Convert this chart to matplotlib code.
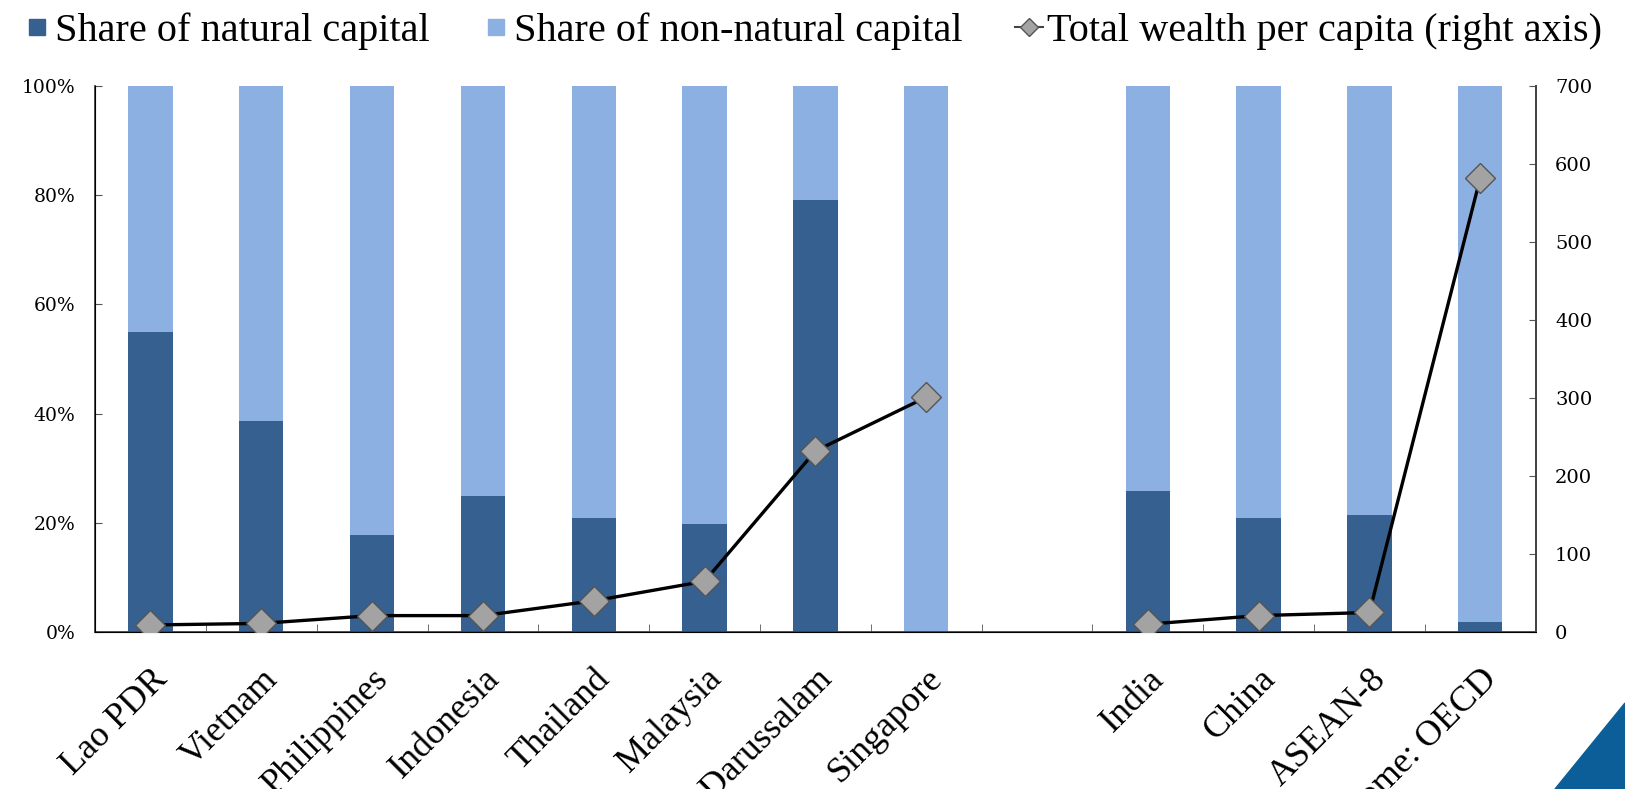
import numpy as np
import matplotlib
matplotlib.use("Agg")
import matplotlib.pyplot as plt
from matplotlib.patches import Polygon
from matplotlib.lines import Line2D

categories = ["Lao PDR", "Vietnam", "Philippines", "Indonesia", "Thailand", "Malaysia",
              "Brunei Darussalam", "Singapore", "", "India", "China", "ASEAN-8",
              "High income: OECD"]
natural_share = [55.0, 38.7, 17.8, 24.9, 20.9, 19.7, 79.1, 0.0, np.nan, 25.8, 20.9, 21.4, 1.9]
wealth_per_capita = [9, 11, 21, 21, 40, 65, 232, 301, np.nan, 10, 21, 25, 582]

plt.rcParams['font.family'] = ['Liberation Serif', 'DejaVu Serif']

dark = "#35608f"
light = "#8db0e2"

fig = plt.figure(figsize=(16.25, 7.89), dpi=100)
ax = fig.add_axes([0.0585, 0.199, 0.8865, 0.692])
x = np.arange(len(categories))
nat = np.array(natural_share, dtype=float)
valid = ~np.isnan(nat)
non = 100 - nat
w = 0.4
ax.bar(x[valid], nat[valid], width=w, color=dark, zorder=2)
ax.bar(x[valid], non[valid], bottom=nat[valid], width=w, color=light, zorder=2)

ax.set_xlim(-0.5, len(categories) - 0.5)
ax.set_ylim(0, 100)
ax.set_yticks(np.arange(0, 101, 20))
ax.set_yticklabels([f"{v}%" for v in range(0, 101, 20)], fontsize=13.5,
                   family=['DejaVu Serif'])
ax.set_xticks(x)
ax.set_xticklabels(categories, rotation=45, ha='right', rotation_mode='anchor',
                   fontsize=26)
ax.tick_params(axis='x', length=0, pad=22)
ax.set_xticks(np.arange(-0.5, len(categories), 1), minor=True)
ax.tick_params(axis='x', which='minor', direction='in', length=6, color='#555555')
ax.tick_params(axis='y', direction='in', length=5, color='#555555', pad=14)
ax.spines['top'].set_visible(False)
for s in ['left', 'bottom', 'right']:
    ax.spines[s].set_color('#444444')
    ax.spines[s].set_linewidth(1.3)

ax2 = ax.twinx()
ax2.set_ylim(0, 700)
ax2.set_yticks(np.arange(0, 701, 100))
ax2.set_yticklabels([str(v) for v in range(0, 701, 100)], fontsize=14,
                    family=['DejaVu Serif'])
ax2.tick_params(axis='y', direction='in', length=5, color='#555555', pad=14)
ax2.spines['top'].set_visible(False)
ax2.spines['right'].set_color('#444444')
ax2.spines['right'].set_linewidth(1.3)
ax2.plot(x, wealth_per_capita, color='black', lw=2.4, marker='D', markersize=15,
         markerfacecolor='#a3a3a3', markeredgecolor='#555555', markeredgewidth=1, zorder=3)

handles = [
    Line2D([], [], marker='s', color='none', markerfacecolor=dark, markeredgecolor=dark, markersize=11),
    Line2D([], [], marker='s', color='none', markerfacecolor=light, markeredgecolor=light, markersize=11),
    Line2D([], [], marker='D', color='#444444', lw=1.5, markerfacecolor='#a3a3a3',
           markeredgecolor='#555555', markersize=9),
]
labels = ["Share of natural capital", "Share of non-natural capital", "Total wealth per capita (right axis)"]
fig.legend(handles, labels, loc='upper center', bbox_to_anchor=(0.5, 1.03), ncol=3,
           frameon=False, fontsize=29, handlelength=0.7, handletextpad=0.1, columnspacing=1.3)

tri = Polygon([[1555 / 1625, 0], [1625 / 1625, 86 / 789], [1, 0]], closed=True,
              transform=fig.transFigure, color="#0b5e98", zorder=10)
fig.patches.append(tri)

fig.savefig("out.png", dpi=100)
